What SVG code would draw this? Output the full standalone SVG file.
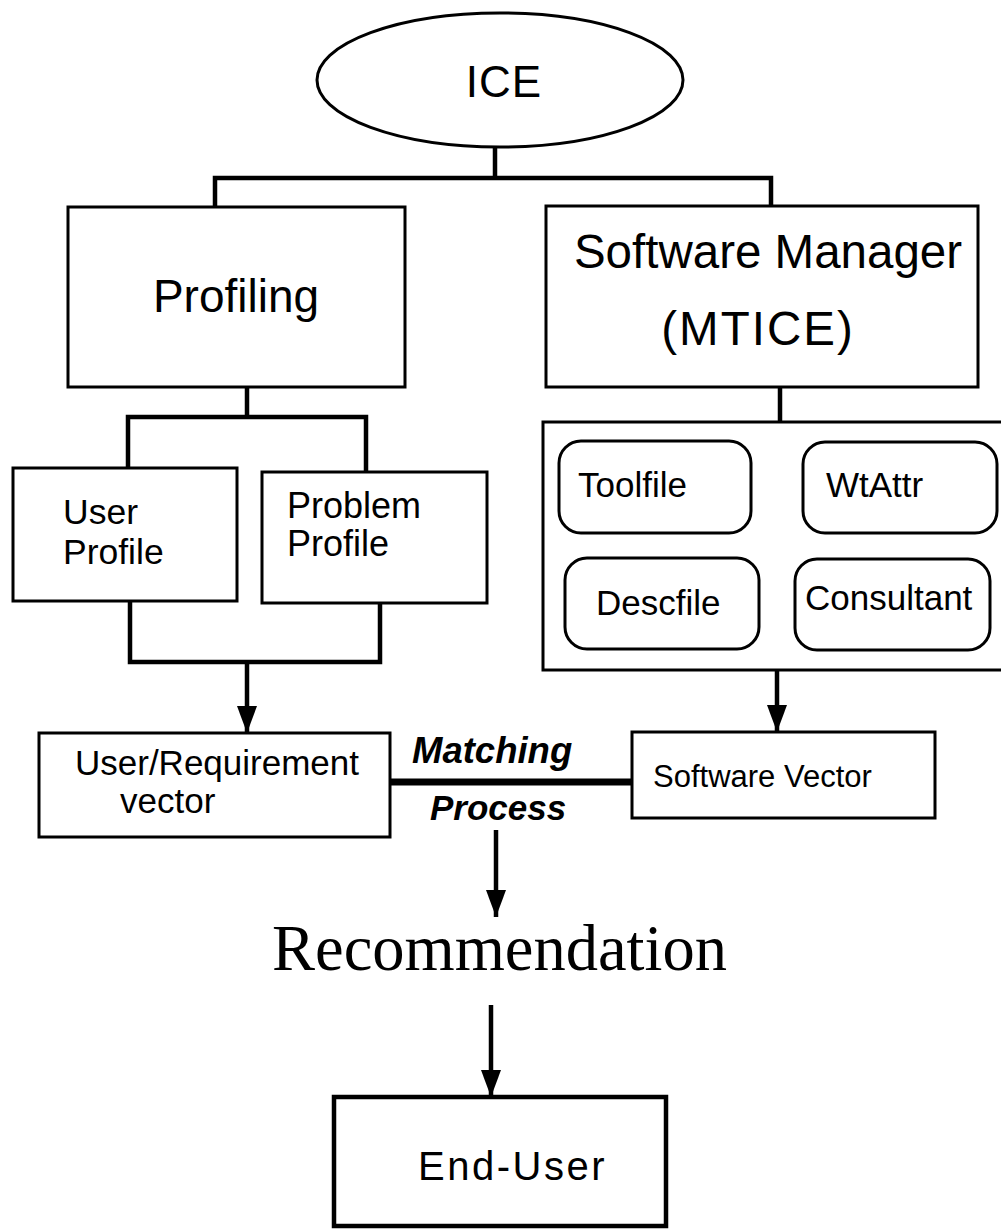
<svg xmlns="http://www.w3.org/2000/svg" width="1001" height="1229" viewBox="0 0 1001 1229">
  <defs>
    <!-- filled triangular head, drawn along +x so it follows the line direction -->
    <marker id="arrow" viewBox="0 0 27 20" refX="27" refY="10" markerWidth="27" markerHeight="20" markerUnits="userSpaceOnUse" orient="auto">
      <path d="M0,0 L27,10 L0,20 Z" fill="#000"/>
    </marker>
    <style>
      .box { fill: #fff; stroke: #000; stroke-width: 3; }
      .rbox { fill: #fff; stroke: #000; stroke-width: 3; }
      .wire { fill: none; stroke: #000; stroke-width: 4.5; stroke-linejoin: miter; }
      .sans { font-family: "Liberation Sans", Arial, Helvetica, sans-serif; fill: #000; }
      .serif { font-family: "Liberation Serif", "Times New Roman", serif; fill: #000; }
      .bi { font-weight: bold; font-style: italic; }
    </style>
  </defs>

  <rect x="0" y="0" width="1001" height="1229" fill="#fff"/>

  <!-- connectors -->
  <g id="connectors">
    <!-- ICE to the two branches -->
    <path class="wire" d="M495,148 V178"/>
    <path class="wire" d="M215,207 V178 H771 V207"/>
    <!-- Profiling to its two profiles -->
    <path class="wire" d="M247,387 V417"/>
    <path class="wire" d="M128,468 V417 H366 V472"/>
    <!-- profiles merge into the requirement vector -->
    <path class="wire" d="M130,601 V662 H380 V603"/>
    <line class="wire" x1="247" y1="662" x2="247" y2="733" stroke-width="3.5" marker-end="url(#arrow)"/>
    <!-- Software Manager to its component panel -->
    <path class="wire" d="M780,387 V422"/>
    <line class="wire" x1="777" y1="670" x2="777" y2="732" stroke-width="3.5" marker-end="url(#arrow)"/>
    <!-- matching bar between the two vectors -->
    <line x1="390" y1="782" x2="633" y2="782" stroke="#000" stroke-width="7"/>
    <!-- matching result to recommendation -->
    <line class="wire" x1="496" y1="830" x2="496" y2="917" stroke-width="3.5" marker-end="url(#arrow)"/>
    <!-- recommendation to end-user -->
    <line class="wire" x1="491" y1="1005" x2="491" y2="1097" stroke-width="3.5" marker-end="url(#arrow)"/>
  </g>

  <g id="ice">
    <ellipse cx="500" cy="80" rx="183" ry="67" fill="#fff" stroke="#000" stroke-width="3"/>
    <text class="sans" x="504" y="97" font-size="44" text-anchor="middle" letter-spacing="1">ICE</text>
  </g>

  <g id="profiling">
    <rect class="box" x="68" y="207" width="337" height="180"/>
    <text class="sans" x="236" y="312" font-size="46" text-anchor="middle">Profiling</text>
  </g>

  <g id="software-manager">
    <rect class="box" x="546" y="206" width="432" height="181"/>
    <text class="sans" x="768" y="268" font-size="47.5" text-anchor="middle">Software Manager</text>
    <text class="sans" x="758" y="345" font-size="47.5" text-anchor="middle" letter-spacing="2">(MTICE)</text>
  </g>

  <g id="user-profile">
    <rect class="box" x="13" y="468" width="224" height="133"/>
    <text class="sans" x="63" y="524" font-size="35.5">User</text>
    <text class="sans" x="63" y="564" font-size="35.5">Profile</text>
  </g>

  <g id="problem-profile">
    <rect class="box" x="262" y="472" width="225" height="131"/>
    <text class="sans" x="287" y="518" font-size="36">Problem</text>
    <text class="sans" x="287" y="556" font-size="36">Profile</text>
  </g>

  <g id="components">
    <rect class="box" x="543" y="422" width="470" height="248"/>
    <g id="toolfile">
      <rect class="rbox" x="559" y="441" width="192" height="92" rx="22"/>
      <text class="sans" x="578" y="497" font-size="35">Toolfile</text>
    </g>
    <g id="wtattr">
      <rect class="rbox" x="803" y="442" width="194" height="91" rx="22"/>
      <text class="sans" x="826" y="497" font-size="35">WtAttr</text>
    </g>
    <g id="descfile">
      <rect class="rbox" x="565" y="558" width="194" height="91" rx="22"/>
      <text class="sans" x="596" y="615" font-size="35">Descfile</text>
    </g>
    <g id="consultant">
      <rect class="rbox" x="795" y="559" width="195" height="91" rx="22"/>
      <text class="sans" x="805" y="610" font-size="35">Consultant</text>
    </g>
  </g>

  <g id="requirement-vector">
    <rect class="box" x="39" y="733" width="351" height="104"/>
    <text class="sans" x="75" y="775" font-size="35">User/Requirement</text>
    <text class="sans" x="120" y="813" font-size="35">vector</text>
  </g>

  <g id="matching-label">
    <text class="sans bi" x="412" y="763" font-size="36.5">Matching</text>
    <text class="sans bi" x="430" y="820" font-size="35">Process</text>
  </g>

  <g id="software-vector">
    <rect class="box" x="632" y="732" width="303" height="86"/>
    <text class="sans" x="653" y="787" font-size="31">Software Vector</text>
  </g>

  <g id="recommendation">
    <text class="serif" x="272" y="970" font-size="64.5">Recommendation</text>
  </g>

  <g id="end-user">
    <rect x="334" y="1097" width="332" height="129" fill="#fff" stroke="#000" stroke-width="4.5"/>
    <text class="sans" x="418" y="1180" font-size="40" letter-spacing="2.5">End-User</text>
  </g>
</svg>
